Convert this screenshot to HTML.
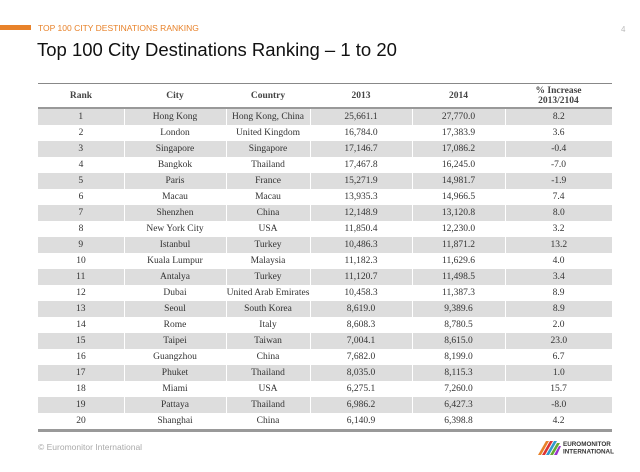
<!DOCTYPE html>
<html><head><style>
body{margin:0;width:640px;height:472px;background:#fff;position:relative;overflow:hidden;font-family:"Liberation Sans",sans-serif}
.bar{position:absolute;left:0;top:25px;width:31px;height:5px;background:#e8822a}
.sub{position:absolute;left:38px;top:23px;font-size:8.5px;color:#e8822a}
.pg{position:absolute;left:621px;top:25px;font-size:8px;color:#bbb}
h1{position:absolute;left:37px;top:39px;margin:0;font-weight:normal;font-size:18.5px;color:#111}
table{position:absolute;left:38px;top:83px;width:574px;border-collapse:collapse;font-family:"Liberation Serif",serif;font-size:9.5px;color:#333;border-top:1.5px solid #888;border-bottom:3px solid #999}
th{height:21px;font-size:9.5px;line-height:10px;border-bottom:2px solid #999;font-weight:bold;color:#444}
td{height:16px;padding:0;text-align:center}
tbody tr:nth-child(odd) td{background:#ddd}
tbody tr:nth-child(odd) td+td{border-left:1px solid #fff}
.ft{position:absolute;left:38px;top:442px;font-size:8.5px;color:#aaa}
.logo{position:absolute;left:536px;top:438px;width:80px;height:18px}
</style></head><body>
<div class="bar"></div><div class="sub">TOP 100 CITY DESTINATIONS RANKING</div><div class="pg">4</div>
<h1>Top 100 City Destinations Ranking – 1 to 20</h1>
<table>
<colgroup><col style="width:86px"><col style="width:102px"><col style="width:84px"><col style="width:102px"><col style="width:93px"><col style="width:107px"></colgroup>
<thead><tr><th>Rank</th><th>City</th><th>Country</th><th>2013</th><th>2014</th><th>% Increase<br>2013/2104</th></tr></thead>
<tbody>
<tr><td>1</td><td>Hong Kong</td><td>Hong Kong, China</td><td>25,661.1</td><td>27,770.0</td><td>8.2</td></tr>
<tr><td>2</td><td>London</td><td>United Kingdom</td><td>16,784.0</td><td>17,383.9</td><td>3.6</td></tr>
<tr><td>3</td><td>Singapore</td><td>Singapore</td><td>17,146.7</td><td>17,086.2</td><td>-0.4</td></tr>
<tr><td>4</td><td>Bangkok</td><td>Thailand</td><td>17,467.8</td><td>16,245.0</td><td>-7.0</td></tr>
<tr><td>5</td><td>Paris</td><td>France</td><td>15,271.9</td><td>14,981.7</td><td>-1.9</td></tr>
<tr><td>6</td><td>Macau</td><td>Macau</td><td>13,935.3</td><td>14,966.5</td><td>7.4</td></tr>
<tr><td>7</td><td>Shenzhen</td><td>China</td><td>12,148.9</td><td>13,120.8</td><td>8.0</td></tr>
<tr><td>8</td><td>New York City</td><td>USA</td><td>11,850.4</td><td>12,230.0</td><td>3.2</td></tr>
<tr><td>9</td><td>Istanbul</td><td>Turkey</td><td>10,486.3</td><td>11,871.2</td><td>13.2</td></tr>
<tr><td>10</td><td>Kuala Lumpur</td><td>Malaysia</td><td>11,182.3</td><td>11,629.6</td><td>4.0</td></tr>
<tr><td>11</td><td>Antalya</td><td>Turkey</td><td>11,120.7</td><td>11,498.5</td><td>3.4</td></tr>
<tr><td>12</td><td>Dubai</td><td>United Arab Emirates</td><td>10,458.3</td><td>11,387.3</td><td>8.9</td></tr>
<tr><td>13</td><td>Seoul</td><td>South Korea</td><td>8,619.0</td><td>9,389.6</td><td>8.9</td></tr>
<tr><td>14</td><td>Rome</td><td>Italy</td><td>8,608.3</td><td>8,780.5</td><td>2.0</td></tr>
<tr><td>15</td><td>Taipei</td><td>Taiwan</td><td>7,004.1</td><td>8,615.0</td><td>23.0</td></tr>
<tr><td>16</td><td>Guangzhou</td><td>China</td><td>7,682.0</td><td>8,199.0</td><td>6.7</td></tr>
<tr><td>17</td><td>Phuket</td><td>Thailand</td><td>8,035.0</td><td>8,115.3</td><td>1.0</td></tr>
<tr><td>18</td><td>Miami</td><td>USA</td><td>6,275.1</td><td>7,260.0</td><td>15.7</td></tr>
<tr><td>19</td><td>Pattaya</td><td>Thailand</td><td>6,986.2</td><td>6,427.3</td><td>-8.0</td></tr>
<tr><td>20</td><td>Shanghai</td><td>China</td><td>6,140.9</td><td>6,398.8</td><td>4.2</td></tr>
</tbody></table>
<div class="ft">© Euromonitor International</div>
<svg class="logo" viewBox="0 0 80 18">
<path d="M2 17 L10 3 L13 3 L5 17Z" fill="#e8822a"/><path d="M6 17 L14 3 L17 3 L9 17Z" fill="#d33"/><path d="M10 17 L18 3 L21 3 L13 17Z" fill="#39c"/><path d="M14 17 L21 5 L24 5 L17 17Z" fill="#6a3"/><path d="M18 17 L23 8 L25 8 L21 17Z" fill="#93c"/>
<text x="27" y="8" font-family="Liberation Sans" font-size="6.3" font-weight="bold" fill="#333">EUROMONITOR</text>
<text x="27" y="15.5" font-family="Liberation Sans" font-size="6.3" font-weight="bold" fill="#333">INTERNATIONAL</text>
</svg>
</body></html>
